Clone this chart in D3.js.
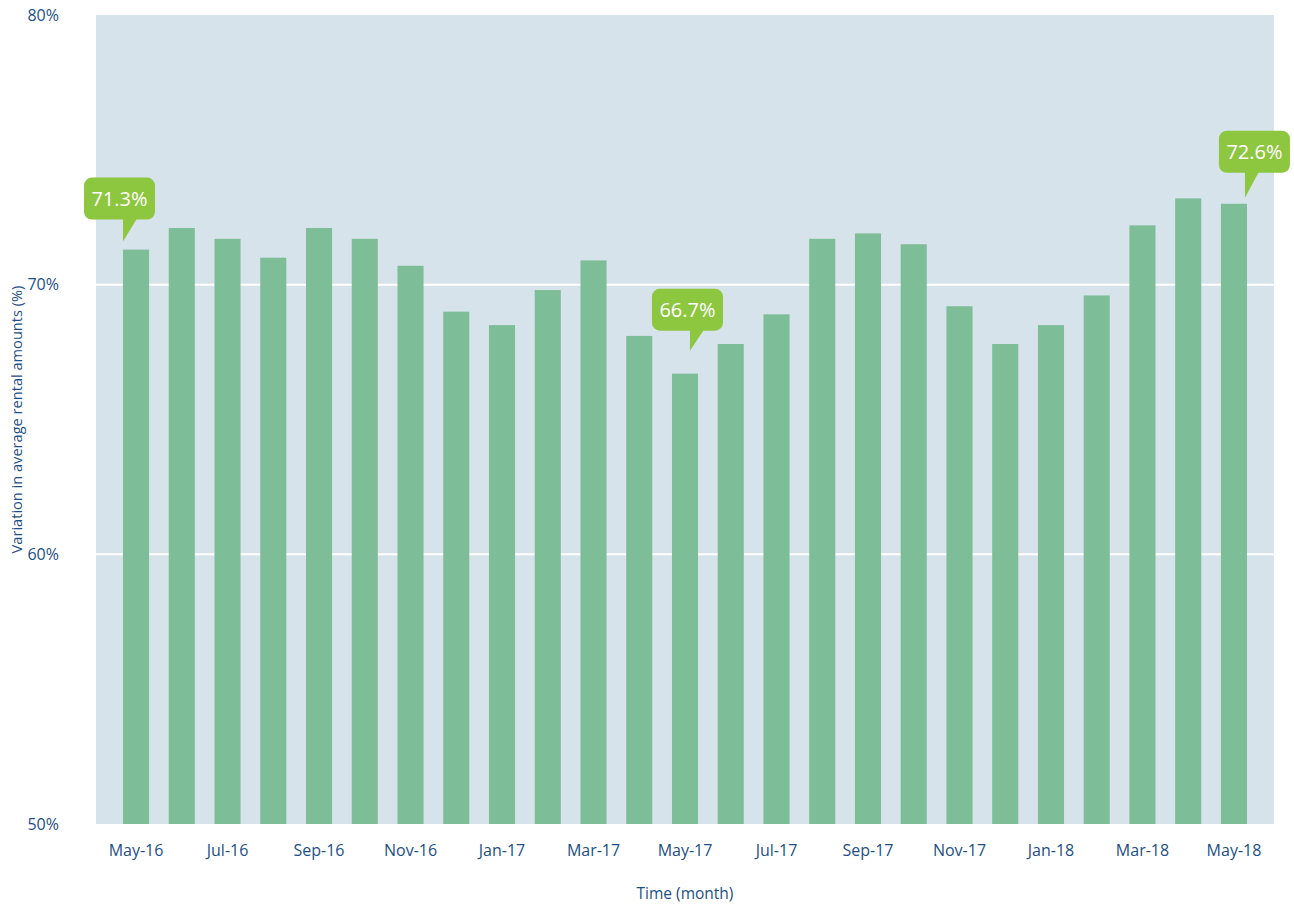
<!DOCTYPE html>
<html>
<head>
<meta charset="utf-8">
<script src="https://cdn.jsdelivr.net/npm/d3@7"></script>
<style>
  body { margin: 0; background: #fff; }
  text { font-family: "Open Sans", sans-serif; }
</style>
</head>
<body>
<div id="chart"></div>
<script>
var months = ["May-16", "Jun-16", "Jul-16", "Aug-16", "Sep-16", "Oct-16", "Nov-16", "Dec-16",
  "Jan-17", "Feb-17", "Mar-17", "Apr-17", "May-17", "Jun-17", "Jul-17", "Aug-17", "Sep-17",
  "Oct-17", "Nov-17", "Dec-17", "Jan-18", "Feb-18", "Mar-18", "Apr-18", "May-18"]
var values = [71.3, 72.1, 71.7, 71.0, 72.1, 71.7, 70.7, 69.0, 68.5, 69.8, 70.9, 68.1, 66.7,
  67.8, 68.9, 71.7, 71.9, 71.5, 69.2, 67.8, 68.5, 69.6, 72.2, 73.2, 73.0]
var tickMonths = ["May-16", "Jul-16", "Sep-16", "Nov-16", "Jan-17", "Mar-17", "May-17", "Jul-17",
  "Sep-17", "Nov-17", "Jan-18", "Mar-18", "May-18"]
var yTicks = [50, 60, 70, 80]
var calloutMonths = ["May-16", "May-17", "May-18"]
var calloutLabels = ["71.3%", "66.7%", "72.6%"]

var width = 1294
var height = 906
var margin = {top: 15, right: 20, bottom: 82, left: 96}
var blue = "#1d4f86"

var svg = d3.select("#chart").append("svg")
  .attr("width", width).attr("height", height)

var x = d3.scaleBand()
  .domain(months)
  .range([margin.left, width - margin.right])
  .paddingInner(0.43)
  .paddingOuter(0.59)

var y = d3.scaleLinear()
  .domain([50, 80])
  .range([height - margin.bottom, margin.top])

// plot background
svg.append("rect")
  .attr("x", margin.left)
  .attr("y", margin.top)
  .attr("width", width - margin.right - margin.left)
  .attr("height", y(50) - y(80))
  .attr("fill", "#d7e3ea")

// gridlines
svg.append("g")
  .selectAll("line")
  .data(yTicks.filter(function(d) { return d > 50 && d < 80 }))
  .enter().append("line")
  .attr("x1", margin.left)
  .attr("x2", width - margin.right)
  .attr("y1", function(d) { return y(d) })
  .attr("y2", function(d) { return y(d) })
  .attr("stroke", "#fff")
  .attr("stroke-width", 2)

svg.append("g")
  .selectAll("rect")
  .data(values)
  .enter().append("rect")
  .attr("x", function(d, i) { return x(months[i]) })
  .attr("y", function(d) { return y(d) })
  .attr("width", x.bandwidth())
  .attr("height", function(d) { return y(50) - y(d) })
  .attr("fill", "#7dbd97")

// y axis
var yAxis = svg.append("g")
  .attr("transform", "translate(" + (margin.left - 34) + ",0)")
  .call(d3.axisLeft(y).tickValues(yTicks).tickFormat(function(d) { return d + "%" }).tickSize(0))
yAxis.select(".domain").remove()
yAxis.selectAll("text")
  .attr("fill", blue)
  .attr("font-size", 16)
  .attr("dx", 0)

// x axis
var xAxis = svg.append("g")
  .attr("transform", "translate(0," + (y(50) + 18) + ")")
  .call(d3.axisBottom(x).tickValues(tickMonths).tickSize(0))
xAxis.select(".domain").remove()
xAxis.selectAll("text")
  .attr("fill", blue)
  .attr("font-size", 16)

svg.append("text")
  .attr("x", (margin.left + width - margin.right) / 2)
  .attr("y", 899)
  .attr("text-anchor", "middle")
  .attr("fill", blue)
  .attr("font-size", 15.5)
  .text("Time (month)")

svg.append("text")
  .attr("transform", "translate(22," + ((y(50) + y(80)) / 2) + ") rotate(-90)")
  .attr("text-anchor", "middle")
  .attr("fill", blue)
  .attr("font-size", 14.6)
  .text("Variation in average rental amounts (%)")

// callouts: box offset, pointer offset (from bar's left edge), gap above bar, pointer length
var boxShift = [-39, -20, -2]
var tipShift = [0, 18, 24]
var gaps = [8, 23, 6]
var tipLen = [22, 20, 25]
var boxW = 71, boxH = 42

var callouts = svg.append("g")
  .selectAll("g")
  .data(calloutMonths)
  .enter().append("g")

callouts.each(function(m, i) {
  var g = d3.select(this)
  var v = values[months.indexOf(m)]
  var tipX = x(m) + tipShift[i]
  var tipY = y(v) - gaps[i]
  var bx = x(m) + boxShift[i]
  var by = tipY - tipLen[i] - boxH
  g.append("rect")
    .attr("x", bx).attr("y", by)
    .attr("width", boxW).attr("height", boxH)
    .attr("rx", 8)
    .attr("fill", "#8dc63f")
  g.append("path")
    .attr("d", "M" + tipX + "," + (by + boxH - 1) + "L" + (tipX + 14) + "," + (by + boxH - 1) + "L" + tipX + "," + tipY + "Z")
    .attr("fill", "#8dc63f")
  g.append("text")
    .attr("x", bx + boxW / 2)
    .attr("y", by + boxH / 2 + 7)
    .attr("text-anchor", "middle")
    .attr("fill", "#fff")
    .attr("font-size", 20)
    .text(calloutLabels[i])
})
</script>
</body>
</html>
